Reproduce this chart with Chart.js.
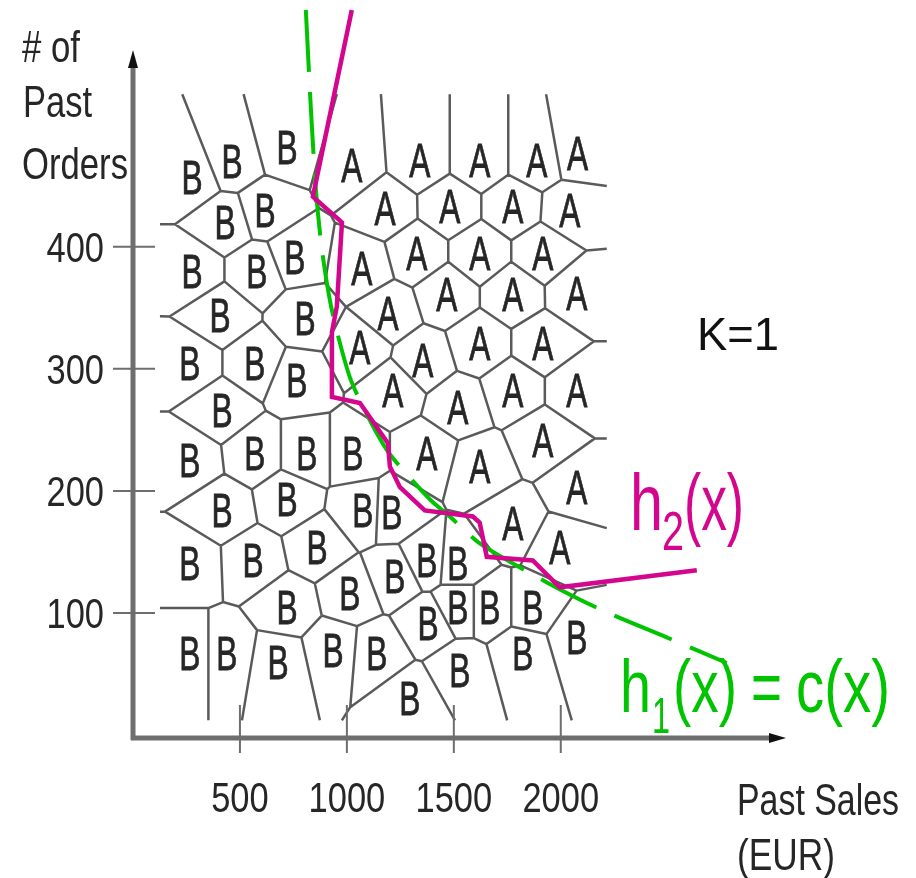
<!DOCTYPE html>
<html>
<head>
<meta charset="utf-8">
<script src="https://cdn.jsdelivr.net/npm/chart.js@4.4.1/dist/chart.umd.min.js"></script>
<style>
  html, body { margin: 0; padding: 0; background: #fff; }
  #wrap { width: 916px; height: 878px; }
</style>
</head>
<body>
<div id="wrap"><canvas id="knnChart"></canvas></div>
<script>
// tick values
var salesTicks = [500, 1000, 1500, 2000];
var orderTicks = [100, 200, 300, 400];

// class A customers (past sales EUR, # of past orders)
var aSales  = [1023, 1341, 1621, 1888, 2079, 1178, 1481, 1776, 2042, 1070, 1327, 1621, 1916,
               1192, 1467, 1776, 2075, 1061, 1355, 1621, 1916, 1215, 1519, 1776, 2075,
               1374, 1916, 1621, 2075, 1776, 1995];
var aOrders = [467, 471, 471, 471, 477, 432, 433, 433, 430, 383, 395, 395, 395,
               346, 361, 361, 362, 318, 307, 321, 321, 283, 269, 283, 283,
               231, 242, 220, 203, 174, 154];

// class B customers
var bSales  = [276, 463, 720, 430, 617, 276, 579, 757, 407, 804, 266, 570, 766, 416,
               266, 570, 813, 1028, 416, 720, 1075, 1210, 266, 561, 860, 720, 1014,
               1224, 1374, 1519, 1379, 1519, 1668, 1869, 266, 439, 678, 935, 1140,
               1294, 1528, 1822, 2075];
var bOrders = [457, 470, 482, 420, 430, 380, 380, 392, 344, 342, 305, 305, 291, 266,
               225, 231, 231, 231, 184, 193, 184, 183, 141, 143, 154, 105, 116,
               130, 143, 141, 92, 105, 105, 105, 67, 67, 60, 70, 67,
               30, 53, 67, 80];

// h2(x): 1-NN decision boundary
var h2Sales  = [1023, 841, 977, 953, 930, 930, 1061, 1192, 1201, 1248, 1364, 1589, 1621, 1654, 1869, 1995, 2636];
var h2Orders = [594, 441, 420, 351, 330, 277, 272, 239, 220, 203, 184, 179, 174, 146, 143, 121, 135];

// h1(x) = c(x): true boundary
var h1Sales  = [808, 832, 855, 883, 930, 1014, 1107, 1201, 1388, 1481, 1621, 1935, 2196, 2495, 2776];
var h1Orders = [594, 512, 447, 398, 348, 293, 258, 230, 193, 179, 157, 125, 102, 80, 59];

// extent of the cell diagram
var cellSales  = [126, 2215];
var cellOrders = [12, 525];

var FONT = '"Liberation Sans", Arial, sans-serif';
var MAGENTA = '#d4068e';
var GREEN = '#00c400';

function pairs(xs, ys) {
    var out = [];
    for (var i = 0; i < xs.length; i++) out.push({x: xs[i], y: ys[i]});
    return out;
}

// text squeezed horizontally (the original lettering is narrow)
function narrowText(ctx, str, x, base, size, sx, color, align, bold) {
    ctx.save();
    ctx.font = size + 'px ' + FONT;
    ctx.fillStyle = color;
    ctx.textAlign = align || 'left';
    ctx.textBaseline = 'alphabetic';
    ctx.translate(x, base);
    ctx.scale(sx, 1);
    ctx.fillText(str, 0, 0);
    if (bold) {
        ctx.strokeStyle = color;
        ctx.lineWidth = bold;
        ctx.strokeText(str, 0, 0);
    }
    ctx.restore();
}

// text fitted to a given width
function fitText(ctx, str, left, base, size, width, color) {
    ctx.save();
    ctx.font = size + 'px ' + FONT;
    var w = ctx.measureText(str).width;
    narrowText(ctx, str, left, base, size, width / w, color, 'left');
    ctx.restore();
}

function clipHalf(poly, nx, ny, c) {
    var out = [];
    for (var k = 0; k < poly.length; k++) {
        var a = poly[k], b = poly[(k + 1) % poly.length];
        var da = nx * a[0] + ny * a[1] - c;
        var db = nx * b[0] + ny * b[1] - c;
        if (da <= 0) out.push(a);
        if ((da < 0 && db > 0) || (da > 0 && db < 0)) {
            var t = da / (da - db);
            out.push([a[0] + t * (b[0] - a[0]), a[1] + t * (b[1] - a[1])]);
        }
    }
    return out;
}

var voronoiPlugin = {
    id: 'voronoi',
    beforeDatasetsDraw: function (chart) {
        var ctx = chart.ctx, xs = chart.scales.x, ys = chart.scales.y;
        var sites = [];
        [0, 1].forEach(function (i) {
            chart.getDatasetMeta(i).data.forEach(function (p) { sites.push([p.x, p.y]); });
        });
        var x0 = xs.getPixelForValue(cellSales[0]), x1 = xs.getPixelForValue(cellSales[1]);
        var y0 = ys.getPixelForValue(cellOrders[1]), y1 = ys.getPixelForValue(cellOrders[0]);
        var box = [[x0, y0], [x1, y0], [x1, y1], [x0, y1]];
        var e = 0.01;
        function onSide(a, b) {
            if (Math.abs(a[0] - x0) < e && Math.abs(b[0] - x0) < e) return true;
            if (Math.abs(a[0] - x1) < e && Math.abs(b[0] - x1) < e) return true;
            if (Math.abs(a[1] - y0) < e && Math.abs(b[1] - y0) < e) return true;
            if (Math.abs(a[1] - y1) < e && Math.abs(b[1] - y1) < e) return true;
            return false;
        }
        ctx.save();
        ctx.strokeStyle = '#5a5a5a';
        ctx.lineWidth = 2.5;
        ctx.beginPath();
        sites.forEach(function (s, i) {
            var poly = box.slice();
            sites.forEach(function (t, j) {
                if (i === j || poly.length === 0) return;
                var nx = t[0] - s[0], ny = t[1] - s[1];
                var c = (nx * (s[0] + t[0]) + ny * (s[1] + t[1])) / 2;
                poly = clipHalf(poly, nx, ny, c);
            });
            for (var k = 0; k < poly.length; k++) {
                var a = poly[k], b = poly[(k + 1) % poly.length];
                if (onSide(a, b)) continue;
                ctx.moveTo(a[0], a[1]);
                ctx.lineTo(b[0], b[1]);
            }
        });
        ctx.stroke();

        // class letters at each customer
        [['A', 0], ['B', 1]].forEach(function (d) {
            chart.getDatasetMeta(d[1]).data.forEach(function (p) {
                narrowText(ctx, d[0], p.x, p.y + 17, 48, 0.66, '#262626', 'center', 0.8);
            });
        });
        ctx.restore();
    }
};

var axesPlugin = {
    id: 'arrowAxes',
    afterDraw: function (chart) {
        var ctx = chart.ctx, xs = chart.scales.x, ys = chart.scales.y;
        var left = chart.chartArea.left, bottom = chart.chartArea.bottom + 3;
        ctx.save();
        ctx.strokeStyle = '#6e6e6e';
        ctx.lineCap = 'butt';

        // ticks
        ctx.lineWidth = 2;
        ctx.beginPath();
        salesTicks.forEach(function (v) {
            var px = xs.getPixelForValue(v);
            ctx.moveTo(px, bottom - 33);
            ctx.lineTo(px, bottom + 15);
        });
        orderTicks.forEach(function (v) {
            var py = ys.getPixelForValue(v);
            ctx.moveTo(left - 20, py);
            ctx.lineTo(left + 22, py);
        });
        ctx.stroke();

        // axis lines
        ctx.lineWidth = 5;
        ctx.beginPath();
        ctx.moveTo(left, bottom + 2);
        ctx.lineTo(left, 62);
        ctx.moveTo(left - 2, bottom);
        ctx.lineTo(774, bottom);
        ctx.stroke();

        // arrow heads
        ctx.fillStyle = '#111';
        ctx.beginPath();
        ctx.moveTo(left, 50);
        ctx.lineTo(left - 5, 68);
        ctx.lineTo(left + 5, 68);
        ctx.closePath();
        ctx.fill();
        ctx.beginPath();
        ctx.moveTo(786, bottom);
        ctx.lineTo(769, bottom - 5);
        ctx.lineTo(769, bottom + 5);
        ctx.closePath();
        ctx.fill();

        // tick labels
        salesTicks.forEach(function (v) {
            narrowText(ctx, String(v), xs.getPixelForValue(v), 812, 42, 0.82, '#262626', 'center');
        });
        orderTicks.forEach(function (v) {
            narrowText(ctx, String(v), 104, ys.getPixelForValue(v) + 15, 42, 0.82, '#262626', 'right');
        });

        // axis titles
        fitText(ctx, '# of', 22, 62, 44, 58, '#262626');
        fitText(ctx, 'Past', 23, 117, 44, 69, '#262626');
        fitText(ctx, 'Orders', 22, 179, 44, 106, '#262626');
        fitText(ctx, 'Past Sales', 737, 815, 44, 162, '#262626');
        fitText(ctx, '(EUR)', 737, 870, 44, 98, '#262626');

        // annotations
        fitText(ctx, 'K=1', 697, 350, 46, 82, '#111');
        fitText(ctx, 'h', 630, 530, 80, 33, MAGENTA);
        fitText(ctx, '2', 662, 550, 56, 22, MAGENTA);
        fitText(ctx, '(x)', 684, 530, 80, 60, MAGENTA);
        fitText(ctx, 'h', 620, 712, 75, 31, GREEN);
        fitText(ctx, '1', 652, 733, 50, 18, GREEN);
        fitText(ctx, '(x)', 673, 712, 75, 64, GREEN);
        fitText(ctx, '=', 751, 712, 75, 31, GREEN);
        fitText(ctx, 'c(x)', 796, 712, 75, 94, GREEN);
        ctx.restore();
    }
};

var ctx = document.getElementById('knnChart');
new Chart(ctx, {
    type: 'scatter',
    data: {
        datasets: [{
            label: 'A',
            data: pairs(aSales, aOrders),
            pointRadius: 0
        }, {
            label: 'B',
            data: pairs(bSales, bOrders),
            pointRadius: 0
        }, {
            label: 'h2(x)',
            data: pairs(h2Sales, h2Orders),
            showLine: true,
            borderColor: MAGENTA,
            borderWidth: 4.5,
            pointRadius: 0,
            clip: false
        }, {
            label: 'h1(x) = c(x)',
            data: pairs(h1Sales, h1Orders),
            showLine: true,
            borderColor: GREEN,
            borderWidth: 4,
            borderDash: [62, 20],
            tension: 0.25,
            pointRadius: 0,
            clip: false
        }]
    },
    options: {
        responsive: true,
        maintainAspectRatio: false,
        animation: false,
        layout: { padding: { left: 133, right: 136, top: 60, bottom: 143 } },
        scales: {
            x: { type: 'linear', min: 0, max: 3025, display: false },
            y: { type: 'linear', min: 0, max: 553, display: false }
        },
        plugins: {
            legend: { display: false },
            tooltip: { enabled: false }
        }
    },
    plugins: [voronoiPlugin, axesPlugin]
});
</script>
</body>
</html>
